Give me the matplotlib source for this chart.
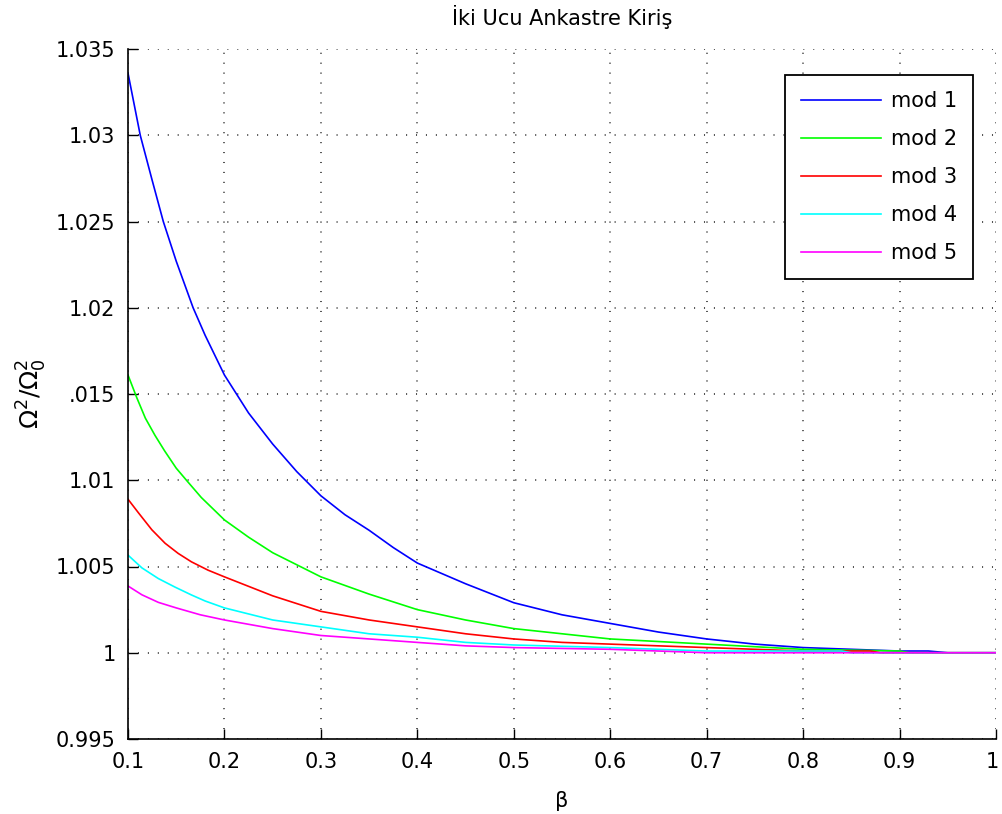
import matplotlib
matplotlib.use("Agg")
import matplotlib.pyplot as plt
import matplotlib.transforms as mtransforms

beta1 = [0.1, 0.1127, 0.125, 0.1366, 0.15, 0.1675, 0.18, 0.2, 0.225, 0.25, 0.275, 0.3, 0.325, 0.35, 0.375,
         0.4, 0.45, 0.5, 0.55, 0.6, 0.65, 0.7, 0.75, 0.8, 0.85, 0.9, 0.93, 0.95, 1.0]
mod1 = [1.0336, 1.0300, 1.0274, 1.0250, 1.0227, 1.0200, 1.0184, 1.0161, 1.0139, 1.0121, 1.0105, 1.0091, 1.0080, 1.0071, 1.0061,
        1.0052, 1.0040, 1.0029, 1.0022, 1.0017, 1.0012, 1.0008, 1.0005, 1.0003, 1.0002, 1.0001, 1.0001, 1.0000, 1.0000]

beta2 = [0.1, 0.109, 0.118, 0.128, 0.138, 0.15, 0.1606, 0.176, 0.2, 0.225, 0.25, 0.275, 0.3, 0.35, 0.4,
         0.45, 0.5, 0.55, 0.6, 0.7, 0.8, 0.9, 0.91, 1.0]
mod2 = [1.0161, 1.0148, 1.0136, 1.0126, 1.0117, 1.0107, 1.0100, 1.0090, 1.0077, 1.0067, 1.0058, 1.0051, 1.0044, 1.0034, 1.0025,
        1.0019, 1.0014, 1.0011, 1.0008, 1.0005, 1.0002, 1.0001, 1.0000, 1.0000]

beta3 = [0.1, 0.111, 0.1247, 0.1384, 0.152, 0.1658, 0.1829, 0.2, 0.25, 0.3, 0.35, 0.4, 0.45, 0.5, 0.55,
         0.6, 0.7, 0.8, 0.87, 0.88, 1.0]
mod3 = [1.0089, 1.0081, 1.00713, 1.00635, 1.00576, 1.00527, 1.00479, 1.0044, 1.0033, 1.0024, 1.0019, 1.0015, 1.0011, 1.0008, 1.0006,
        1.0005, 1.0003, 1.0001, 1.0001, 1.0000, 1.0000]

beta4 = [0.1, 0.1144, 0.1315, 0.1486, 0.1658, 0.18, 0.2, 0.25, 0.3, 0.35, 0.4, 0.45, 0.5, 0.6, 0.65,
         0.7, 0.84, 0.85, 1.0]
mod4 = [1.00566, 1.00492, 1.0043, 1.00381, 1.00335, 1.0030, 1.0026, 1.0019, 1.0015, 1.0011, 1.0009, 1.0006, 1.00045, 1.0003, 1.0002,
        1.0001, 1.0001, 1.0000, 1.0000]

beta5 = [0.1, 0.1144, 0.1315, 0.15, 0.175, 0.2, 0.25, 0.3, 0.35, 0.4, 0.45, 0.5, 0.6, 0.65, 0.7, 1.0]
mod5 = [1.00387, 1.00336, 1.00292, 1.0026, 1.0022, 1.0019, 1.0014, 1.0010, 1.0008, 1.0006, 1.0004, 1.0003, 1.0002, 1.0001, 1.0000, 1.0000]

betas = [beta1, beta2, beta3, beta4, beta5]
series = [mod1, mod2, mod3, mod4, mod5]
labels = ["mod 1", "mod 2", "mod 3", "mod 4", "mod 5"]
colors = ["#0000ff", "#00ff00", "#ff0000", "#00ffff", "#ff00ff"]

xticks = [0.1, 0.2, 0.3, 0.4, 0.5, 0.6, 0.7, 0.8, 0.9, 1.0]
xticklabels = ["0.1", "0.2", "0.3", "0.4", "0.5", "0.6", "0.7", "0.8", "0.9", "1"]
yticks = [0.995, 1.0, 1.005, 1.01, 1.015, 1.02, 1.025, 1.03, 1.035]
yticklabels = ["0.995", "1", "1.005", "1.01", ".015", "1.02", "1.025", "1.03", "1.035"]

plt.rcParams['font.family'] = ['DejaVu Sans']
plt.rcParams['mathtext.fontset'] = 'dejavusans'

fig = plt.figure(figsize=(10.02, 8.14), dpi=100)
ax = fig.add_axes([128 / 1002, 75 / 814, 868 / 1002, 690 / 814])

for x, y, lab, c in zip(betas, series, labels, colors):
    ax.plot(x, y, color=c, lw=1.2, label=lab)

ax.set_xlim(0.1, 1.0)
ax.set_ylim(0.995, 1.035)
ax.set_xticks(xticks)
ax.set_xticklabels(xticklabels, fontsize=15)
ax.set_yticks(yticks)
ax.set_yticklabels(yticklabels, fontsize=15)
ax.tick_params(direction='in', length=7.5, width=1, top=False, right=False)
ax.tick_params(axis='x', pad=9)
ax.tick_params(axis='y', pad=9)
for s in ['top', 'right']:
    ax.spines[s].set_visible(False)
for s in ['left', 'bottom']:
    ax.spines[s].set_linewidth(1.2)
ax.grid(True, color='#222222', lw=1.1, linestyle=(0, (0.7, 5.8)))

# keep the last x tick label inside the figure
last = ax.get_xticklabels()[-1]
last.set_transform(last.get_transform() + mtransforms.ScaledTranslation(-4 / 100, 0, fig.dpi_scale_trans))

ax.set_title("İki Ucu Ankastre Kiriş", fontsize=15, pad=17)
ax.set_xlabel("β", fontsize=15, labelpad=14)
ax.set_ylabel(r"$\Omega^2/\Omega_0^2$", fontsize=18, labelpad=5)

leg = ax.legend(loc='upper right', bbox_to_anchor=(0.9735, 0.962), borderaxespad=0, fontsize=15,
                frameon=True, fancybox=False, edgecolor='black', framealpha=1,
                handlelength=3.85, handletextpad=0.48, borderpad=0.75, labelspacing=0.87)
leg.get_frame().set_linewidth(1.3)

fig.savefig("out.png", dpi=100)
